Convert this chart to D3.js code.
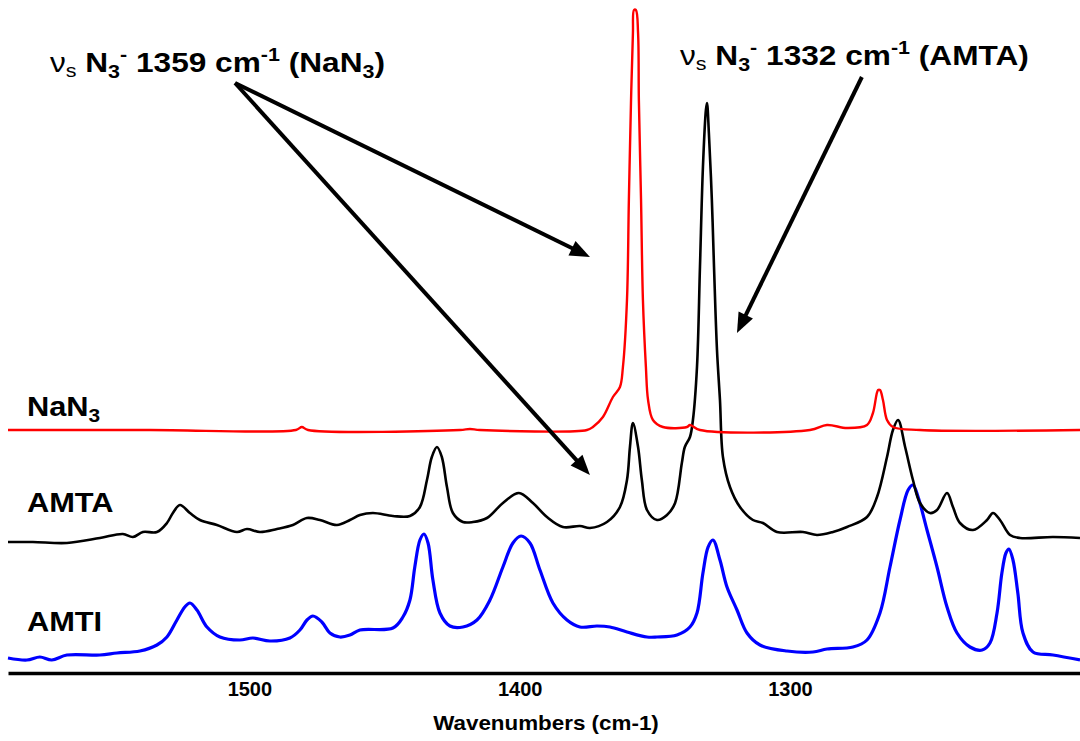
<!DOCTYPE html>
<html>
<head>
<meta charset="utf-8">
<script src="https://cdn.jsdelivr.net/npm/d3@7"></script>
<style>
  body { margin: 0; background: #fff; }
  text { font-family: "Liberation Sans", Arial, sans-serif; }
</style>
</head>
<body>
<div id="chart"></div>
<script>
// Raman spectra (stacked): wavenumber (cm-1) / intensity (a.u., offset included)
let nan3Wn  = [1589.3, 1536.8, 1482.8, 1480.6, 1478.3, 1422.1, 1418.4, 1414.7, 1375.1, 1372.9, 1369.2, 1365.5, 1362.9, 1361.8, 1360.3, 1359.6, 1358.8, 1358.1, 1357.7, 1357.0, 1356.2, 1355.9, 1355.1, 1354.4, 1353.3, 1352.5, 1350.7, 1347.0, 1338.1, 1337.0, 1333.3, 1292.6, 1286.3, 1278.9, 1271.5, 1269.3, 1267.4, 1266.7, 1265.6, 1264.1, 1261.9, 1251.9, 1192.7];
let nan3Int = [243, 243, 243, 246, 243, 243, 244, 243, 243, 246, 256, 276, 286, 306, 373, 473, 573, 640, 663, 663, 640, 573, 473, 373, 306, 273, 253, 246, 246, 248, 243, 243, 248, 245, 248, 260, 283, 283, 273, 253, 246, 243, 243];

let amtaWn  = [1589.3, 1580.1, 1567.5, 1555.3, 1546.8, 1543.1, 1539.4, 1534.2, 1530.5, 1528.3, 1525.7, 1522.0, 1518.3, 1512.0, 1504.6, 1500.9, 1496.1, 1489.8, 1483.9, 1478.7, 1473.9, 1467.6, 1462.8, 1459.1, 1454.3, 1446.9, 1440.6, 1436.9, 1434.3, 1432.5, 1430.6, 1428.8, 1426.9, 1424.7, 1421.0, 1417.3, 1412.1, 1406.2, 1400.3, 1395.1, 1389.9, 1384.0, 1377.7, 1374.0, 1367.7, 1362.9, 1360.3, 1359.2, 1358.1, 1356.2, 1354.8, 1352.9, 1349.2, 1345.5, 1342.5, 1340.0, 1338.9, 1337.0, 1335.9, 1334.4, 1333.3, 1332.2, 1331.1, 1330.7, 1330.0, 1328.9, 1328.1, 1327.0, 1325.9, 1324.8, 1322.2, 1318.5, 1313.7, 1310.0, 1304.8, 1295.2, 1290.0, 1284.1, 1278.9, 1271.5, 1267.8, 1264.1, 1261.9, 1260.0, 1257.4, 1254.5, 1251.9, 1248.2, 1245.6, 1241.9, 1239.7, 1237.1, 1232.3, 1227.1, 1224.9, 1222.3, 1218.6, 1214.9, 1202.7, 1192.7];
let amtaInt = [131, 131, 130, 135, 139, 136, 141, 141, 150, 160, 168, 160, 153, 148, 141, 144, 141, 144, 148, 155, 153, 148, 153, 158, 160, 157, 157, 166, 193, 216, 226, 216, 186, 160, 151, 151, 155, 170, 180, 170, 156, 146, 147, 145, 151, 166, 193, 226, 250, 226, 193, 163, 153, 158, 170, 210, 226, 236, 253, 306, 406, 506, 563, 570, 540, 473, 406, 323, 273, 216, 186, 166, 153, 150, 141, 141, 138, 141, 146, 156, 176, 216, 243, 253, 226, 193, 170, 160, 163, 180, 166, 150, 143, 153, 160, 153, 138, 135, 136, 135];

let amtiWn  = [1589.3, 1582.3, 1577.5, 1573.1, 1567.5, 1555.3, 1549.0, 1540.5, 1534.2, 1530.5, 1526.8, 1523.9, 1522.0, 1519.4, 1515.7, 1510.9, 1503.5, 1498.7, 1492.4, 1485.0, 1481.3, 1478.7, 1476.5, 1473.2, 1470.2, 1466.5, 1462.8, 1459.1, 1446.9, 1443.2, 1440.6, 1438.8, 1436.9, 1435.4, 1433.9, 1432.1, 1429.5, 1425.8, 1421.0, 1415.8, 1411.0, 1406.2, 1402.5, 1399.5, 1396.2, 1392.5, 1387.7, 1382.5, 1377.7, 1371.4, 1366.6, 1360.3, 1352.9, 1349.2, 1341.8, 1337.0, 1334.4, 1332.2, 1330.3, 1328.5, 1325.9, 1323.3, 1319.6, 1315.9, 1311.1, 1301.1, 1291.5, 1286.3, 1276.7, 1271.5, 1266.7, 1263.0, 1259.3, 1256.3, 1254.5, 1252.6, 1249.3, 1245.6, 1241.9, 1238.2, 1233.4, 1228.9, 1226.0, 1223.4, 1221.6, 1220.1, 1219.0, 1217.5, 1215.7, 1213.8, 1210.1, 1202.7, 1192.7];
let amtiInt = [15, 13, 16, 13, 18, 18, 20, 22, 28, 36, 53, 66, 70, 63, 46, 36, 33, 35, 32, 35, 43, 53, 57, 51, 40, 36, 38, 43, 45, 56, 73, 106, 133, 139, 130, 93, 60, 47, 46, 53, 73, 106, 130, 137, 130, 103, 70, 53, 46, 47, 46, 41, 36, 36, 38, 46, 60, 100, 126, 133, 113, 86, 63, 40, 28, 22, 21, 24, 26, 33, 60, 106, 153, 183, 188, 176, 143, 106, 66, 40, 26, 23, 30, 60, 100, 120, 124, 113, 80, 40, 21, 18, 13];

let seriesNames  = ["NaN3", "AMTA", "AMTI"];
let seriesColors = ["#ff0000", "#000000", "#0000ff"];
let seriesWidths = [2.4, 2.6, 3.2];
let labelAt      = [[1582.3, 257], [1582.3, 161], [1582.3, 42]];

let tickValues = [1500, 1400, 1300];
let xDomain = [1589.3, 1192.7];
let yDomain = [0, 673];

// annotations in data coordinates
let arrows = [
    {from: [1505.3, 590], to: [1374.0, 416]},
    {from: [1505.3, 590], to: [1374.0, 198]},
    {from: [1273.4, 596], to: [1319.6, 340]}
];

let width = 1080, height = 741;

let x = d3.scaleLinear().domain(xDomain).range([8, 1080]);
let y = d3.scaleLinear().domain(yDomain).range([673, 0]);

let svg = d3.select("#chart")
    .append("svg")
    .attr("width", width)
    .attr("height", height)
    .style("background", "#fff");

let series = [
    d3.zip(nan3Wn, nan3Int),
    d3.zip(amtaWn, amtaInt),
    d3.zip(amtiWn, amtiInt)
];

let line = d3.line()
    .x(function(d) { return x(d[0]); })
    .y(function(d) { return y(d[1]); })
    .curve(d3.curveCatmullRom.alpha(0.5));

// draw AMTI first, NaN3 on top
[2, 1, 0].forEach(function(i) {
    svg.append("path")
        .datum(series[i])
        .attr("fill", "none")
        .attr("stroke", seriesColors[i])
        .attr("stroke-width", seriesWidths[i])
        .attr("stroke-linejoin", "round")
        .attr("d", line);
});

// axis
let xAxis = d3.axisBottom(x).tickValues(tickValues).tickFormat(d3.format("d")).tickSize(0).tickPadding(9);
let gx = svg.append("g")
    .attr("transform", "translate(0,673)")
    .call(xAxis);
gx.select(".domain").attr("stroke", "#000").attr("stroke-width", 3.5);
gx.selectAll("text")
    .attr("font-size", 20)
    .attr("font-weight", "bold")
    .attr("fill", "#000")
    .style("font-family", "'Liberation Sans', Arial, sans-serif");

svg.append("text")
    .attr("text-anchor", "middle")
    .attr("transform", "translate(546,730) scale(1.12,1)")
    .attr("font-size", 20)
    .attr("font-weight", "bold")
    .text("Wavenumbers (cm-1)");

// series labels
seriesNames.forEach(function(name, i) {
    let t = svg.append("text")
        .attr("transform", "translate(" + x(labelAt[i][0]) + "," + y(labelAt[i][1]) + ") scale(1.1,1)")
        .attr("font-size", 28)
        .attr("font-weight", "bold");
    if (name === "NaN3") {
        t.append("tspan").text("NaN");
        t.append("tspan").attr("font-size", 19).attr("dy", 6).text("3");
    } else {
        t.text(name);
    }
});

// arrow heads
function arrow(a) {
    let x0 = x(a.from[0]), y0 = y(a.from[1]);
    let x1 = x(a.to[0]), y1 = y(a.to[1]);
    let dx = x1 - x0, dy = y1 - y0, len = Math.sqrt(dx * dx + dy * dy);
    let ux = dx / len, uy = dy / len;
    let headLen = 20, headW = 8;
    let bx = x1 - ux * headLen, by = y1 - uy * headLen;
    svg.append("line")
        .attr("x1", x0).attr("y1", y0)
        .attr("x2", bx + ux * 2).attr("y2", by + uy * 2)
        .attr("stroke", "#000")
        .attr("stroke-width", 4);
    svg.append("path")
        .attr("d", "M" + x1 + "," + y1 +
            "L" + (bx - uy * headW) + "," + (by + ux * headW) +
            "L" + (bx + uy * headW) + "," + (by - ux * headW) + "Z")
        .attr("fill", "#000");
}
arrows.forEach(arrow);

// peak annotations
function annot(pos, num, sample) {
    let t = svg.append("text")
        .attr("transform", "translate(" + x(pos[0]) + "," + y(pos[1]) + ") scale(1.13,1)")
        .attr("font-size", 28)
        .attr("font-weight", "bold")
        .attr("fill", "#000");
    t.append("tspan").attr("font-weight", "normal").text("ν");
    t.append("tspan").attr("font-size", 19).attr("font-weight", "normal").attr("dy", 5).text("s");
    t.append("tspan").attr("dy", -5).text(" N");
    t.append("tspan").attr("font-size", 19).attr("dy", 6).text("3");
    t.append("tspan").attr("font-size", 19).attr("dy", -17).text("-");
    t.append("tspan").attr("dy", 11).text(" " + num + " cm");
    t.append("tspan").attr("font-size", 19).attr("dy", -11).text("-1");
    t.append("tspan").attr("dy", 11).text(" (" + sample.name);
    if (sample.sub) {
        t.append("tspan").attr("font-size", 19).attr("dy", 6).text(sample.sub);
        t.append("tspan").attr("dy", -6).text(")");
    } else {
        t.append("tspan").text(")");
    }
}
annot([1573.8, 601], "1359", {name: "NaN", sub: "3"});
annot([1340.7, 608], "1332", {name: "AMTA", sub: null});
</script>
</body>
</html>
